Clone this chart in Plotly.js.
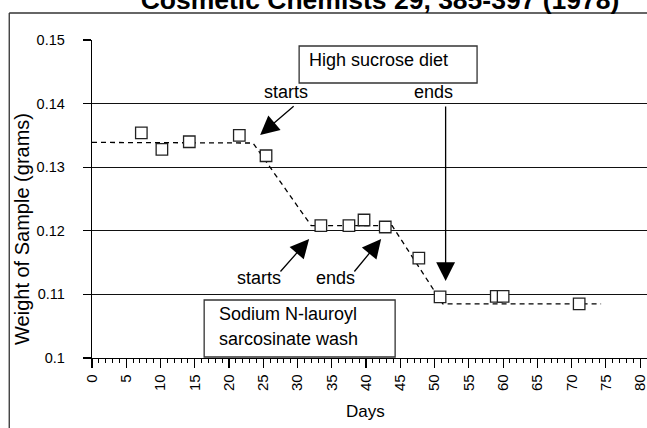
<!DOCTYPE html>
<html>
<head>
<meta charset="utf-8">
<script src="https://cdn.plot.ly/plotly-3.0.1.min.js"></script>
<style>
  html, body { margin: 0; padding: 0; background: #fff; }
  #chart { width: 647px; height: 428px; }
</style>
</head>
<body>
<div id="chart"></div>
<script>
// Sample weight over the course of the study
const days    = [7.2, 10.2, 14.2, 21.5, 25.4, 33.4, 37.5, 39.7, 42.8, 47.7, 50.8, 59.0, 60.0, 71.1];
const weights = [0.1354, 0.1328, 0.1340, 0.1350, 0.1318, 0.1208, 0.1208, 0.1217, 0.1206, 0.1157, 0.1096, 0.1097, 0.1097, 0.1085];

// Piecewise trend drawn as a dashed line
const trendDays    = [0, 23.5, 32.0, 43.8, 51.2, 74.3];
const trendWeights = [0.1339, 0.1338, 0.1208, 0.1208, 0.1085, 0.1085];

// Axis ticks
const xTickVals = [0, 5, 10, 15, 20, 25, 30, 35, 40, 45, 50, 55, 60, 65, 70, 75, 80];
const xTickText = xTickVals.map(String);
const yTickVals = [0.10, 0.11, 0.12, 0.13, 0.14, 0.15];
const yTickText = ['0.1', '0.11', '0.12', '0.13', '0.14', '0.15'];

const FONT = 'Liberation Sans, Arial, Helvetica, sans-serif';

const traces = [
  {
    x: trendDays, y: trendWeights,
    type: 'scatter', mode: 'lines',
    line: { color: '#000', width: 1.3, dash: '5px,4px' },
    hoverinfo: 'skip'
  },
  {
    x: days, y: weights,
    type: 'scatter', mode: 'markers',
    marker: { symbol: 'square', size: 11.5, color: '#fff', line: { color: '#222', width: 1.3 } }
  }
];

function label(text, x, y, xanchor, size) {
  return {
    text: text, x: x, y: y, xref: 'x', yref: 'y',
    xanchor: xanchor || 'center', yanchor: 'middle',
    showarrow: false, font: { family: FONT, size: size || 18, color: '#000' }
  };
}

function arrow(x, y, ax, ay) {
  return {
    text: '', x: x, y: y, xref: 'x', yref: 'y',
    ax: ax, ay: ay, showarrow: true,
    arrowhead: 2, arrowsize: 2.9, arrowwidth: 1.3, arrowcolor: '#000', standoff: 0
  };
}

const layout = {
  width: 647, height: 428,
  margin: { l: 92, r: 0, t: 40, b: 70 },
  paper_bgcolor: '#fff', plot_bgcolor: '#fff',
  showlegend: false,
  font: { family: FONT, color: '#000' },
  title: {
    text: '<b>Cosmetic Chemists 29, 385-397 (1978)</b>',
    font: { family: FONT, size: 26.5, color: '#000' },
    x: 380 / 647, xanchor: 'center', xref: 'container',
    y: 1, yanchor: 'middle', yref: 'container'
  },
  xaxis: {
    range: [0, 81],
    tickmode: 'array', tickvals: xTickVals, ticktext: xTickText,
    tickangle: -90,
    ticklabeloverflow: 'allow',
    tickfont: { family: FONT, size: 15, color: '#000' },
    ticks: 'outside', ticklen: 9, tickwidth: 1.2, tickcolor: '#000',
    minor: { dtick: 1, ticks: 'outside', ticklen: 4, tickwidth: 1, tickcolor: '#000', showgrid: false },
    showline: true, linecolor: '#000', linewidth: 1.3,
    showgrid: false, zeroline: false, fixedrange: true
  },
  yaxis: {
    range: [0.1, 0.15],
    tickmode: 'array', tickvals: yTickVals, ticktext: yTickText,
    tickfont: { family: FONT, size: 14.5, color: '#000' },
    ticks: 'outside', ticklen: 8, tickwidth: 1.2, tickcolor: '#000',
    ticklabelstandoff: 15,
    showline: true, linecolor: '#000', linewidth: 1.3,
    showgrid: true, gridcolor: '#111', gridwidth: 1.3,
    zeroline: false, fixedrange: true
  },
  shapes: [
    // outer frame: top and left edges
    { type: 'line', xref: 'paper', yref: 'paper', x0: -0.1491, x1: 1.05, y0: 1.0849, y1: 1.0849,
      line: { color: '#333', width: 1.3 }, layer: 'above' },
    { type: 'line', xref: 'paper', yref: 'paper', x0: -0.1491, x1: -0.1491, y0: -0.3, y1: 1.0849,
      line: { color: '#333', width: 1.3 }, layer: 'above' },
    // treatment boxes
    { type: 'rect', xref: 'x', yref: 'y', x0: 30.23, x1: 56.2, y0: 0.14324, y1: 0.14906,
      line: { color: '#333', width: 1.3 }, fillcolor: '#fff' },
    { type: 'rect', xref: 'x', yref: 'y', x0: 16.37, x1: 44.24, y0: 0.10016, y1: 0.10912,
      line: { color: '#333', width: 1.3 }, fillcolor: '#fff' }
  ],
  annotations: [
    // axis titles
    { text: 'Days', xref: 'paper', yref: 'paper', x: 0.492, y: -0.1667,
      xanchor: 'center', yanchor: 'middle', showarrow: false,
      font: { family: FONT, size: 17, color: '#000' } },
    { text: 'Weight of Sample (grams)', xref: 'paper', yref: 'paper', x: -0.1266, y: 0.405,
      xanchor: 'center', yanchor: 'middle', textangle: -90, showarrow: false,
      font: { family: FONT, size: 20, color: '#000' } },

    label('High sucrose diet', 31.36, 0.1468, 'left'),
    label('starts', 28.26, 0.14175),
    label('ends', 49.86, 0.14175),
    arrow(24.54, 0.13506, 35, -30),
    arrow(51.61, 0.11211, 0, -176),

    label('Sodium N-lauroyl', 18.27, 0.10692, 'left'),
    label('sarcosinate wash', 18.27, 0.10299, 'left'),
    label('starts', 24.32, 0.11258),
    label('ends', 35.56, 0.11258),
    arrow(31.69, 0.11871, -30, 34),
    arrow(42.2, 0.11871, -28, 34)
  ]
};

Plotly.newPlot('chart', traces, layout, { staticPlot: true, displayModeBar: false });
</script>
</body>
</html>
